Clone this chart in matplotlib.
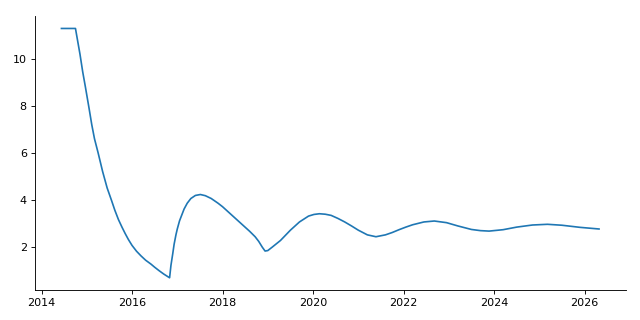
import matplotlib
matplotlib.use("Agg")
import matplotlib.pyplot as plt

# values (year, level)
years = [2014.44, 2014.75, 2014.8, 2014.85, 2014.91, 2014.97, 2015.05, 2015.11, 2015.17,
         2015.25, 2015.3, 2015.35, 2015.45, 2015.55, 2015.62, 2015.7, 2015.78, 2015.85,
         2015.92, 2016.0, 2016.1, 2016.2, 2016.3, 2016.42, 2016.5, 2016.6, 2016.7, 2016.83,
         2016.86, 2016.9, 2016.93, 2016.97, 2017.0, 2017.05, 2017.1, 2017.15, 2017.22,
         2017.3, 2017.4, 2017.51, 2017.62, 2017.75, 2017.9, 2018.0, 2018.2, 2018.4,
         2018.6, 2018.72, 2018.8, 2018.88, 2018.94, 2019.0, 2019.1, 2019.28, 2019.5,
         2019.7, 2019.9, 2020.02, 2020.14, 2020.27, 2020.4, 2020.55, 2020.7, 2020.85,
         2021.0, 2021.2, 2021.39, 2021.6, 2021.75, 2021.9, 2022.05, 2022.2, 2022.45,
         2022.68, 2022.95, 2023.2, 2023.5, 2023.7, 2023.89, 2024.2, 2024.5, 2024.85,
         2025.18, 2025.5, 2025.9, 2026.32]
values = [11.3, 11.3, 10.75, 10.2, 9.45, 8.8, 7.9, 7.2, 6.6,
          6.0, 5.6, 5.2, 4.5, 3.95, 3.55, 3.15, 2.82, 2.55,
          2.3, 2.05, 1.8, 1.6, 1.42, 1.25, 1.12, 0.97, 0.83, 0.67,
          1.2, 1.7, 2.1, 2.5, 2.75, 3.1, 3.35, 3.6, 3.85,
          4.05, 4.18, 4.22, 4.17, 4.05, 3.85, 3.7, 3.35, 3.0,
          2.65, 2.42, 2.22, 1.97, 1.81, 1.83, 1.98, 2.26, 2.7,
          3.05, 3.3, 3.37, 3.4, 3.38, 3.33, 3.2, 3.05, 2.88,
          2.7, 2.5, 2.42, 2.5, 2.6, 2.72, 2.83, 2.93, 3.05,
          3.09, 3.02, 2.88, 2.73, 2.68, 2.66, 2.72, 2.83, 2.92,
          2.95, 2.91, 2.82, 2.75]

fig, ax = plt.subplots(figsize=(8, 4), dpi=80)
fig.subplots_adjust(left=0.054, right=0.978, bottom=0.093, top=0.95)
ax.plot(years, values, color="tab:blue", linewidth=1.5)
ax.set_xticks([2014, 2016, 2018, 2020, 2022, 2024, 2026])
ax.set_xticklabels(["2014", "2016", "2018", "2020", "2022", "2024", "2026"])
ax.set_yticks([2, 4, 6, 8, 10])
ax.spines["top"].set_visible(False)
ax.spines["right"].set_visible(False)
fig.savefig("out.png", dpi=80)
